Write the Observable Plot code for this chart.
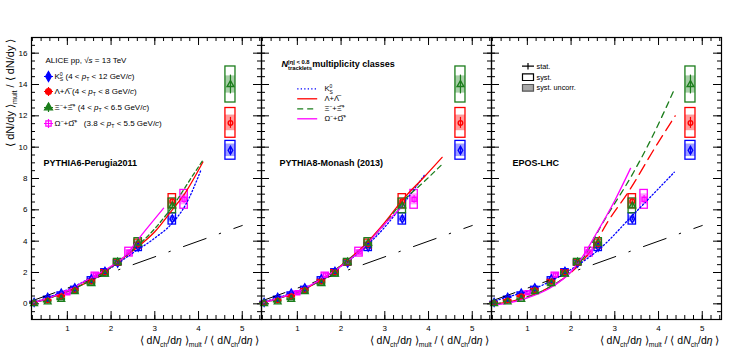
<!DOCTYPE html>
<html><head><meta charset="utf-8">
<script src="https://cdn.jsdelivr.net/npm/d3@7"></script>
<script src="https://cdn.jsdelivr.net/npm/@observablehq/plot@0.6"></script>
<style>
body{margin:0;background:#fff;}
#chart svg{display:block;}
</style></head><body><div id="chart"></div>
<script>
// ---------------- data ----------------
const panels = ["P6", "P8", "EPOS"];
const panelNames = ["PYTHIA6-Perugia2011", "PYTHIA8-Monash (2013)", "EPOS-LHC"];
const xTickLabels = [1, 2, 3, 4, 5];
const yTickLabels = [0, 2, 4, 6, 8, 10, 12, 14, 16];

// multiplicity classes (x) for K0S, Lambda, Xi
const classX = [0.24, 0.55, 0.86, 1.17, 1.55, 1.86, 2.15, 2.62, 3.40];
const k0sY    = [0.10, 0.42, 0.68, 1.02, 1.60, 2.08, 2.60, 3.62, 5.42];
const k0sStat = [0.01, 0.01, 0.01, 0.02, 0.02, 0.03, 0.04, 0.06, 0.10];
const k0sSyst = [0.03, 0.04, 0.05, 0.07, 0.10, 0.13, 0.16, 0.25, 0.36];
const k0sUnc  = [0.02, 0.02, 0.03, 0.04, 0.06, 0.07, 0.09, 0.13, 0.20];
const lamY    = [0.05, 0.22, 0.48, 0.88, 1.42, 2.00, 2.63, 3.82, 6.55];
const lamStat = [0.01, 0.01, 0.02, 0.02, 0.03, 0.04, 0.05, 0.07, 0.12];
const lamSyst = [0.02, 0.03, 0.05, 0.07, 0.11, 0.15, 0.19, 0.28, 0.45];
const lamUnc  = [0.01, 0.02, 0.03, 0.04, 0.06, 0.08, 0.10, 0.15, 0.22];
const xiY     = [0.02, 0.12, 0.29, 0.78, 1.29, 1.90, 2.66, 3.88, 6.25];
const xiStat  = [0.01, 0.02, 0.02, 0.03, 0.04, 0.05, 0.06, 0.09, 0.15];
const xiSyst  = [0.02, 0.03, 0.05, 0.08, 0.12, 0.16, 0.21, 0.31, 0.47];
const xiUnc   = [0.01, 0.02, 0.03, 0.04, 0.06, 0.08, 0.11, 0.16, 0.24];
// Omega (merged classes)
const omeX    = [1.01, 1.64, 2.41, 3.67];
const omeY    = [0.71, 1.84, 3.30, 6.67];
const omeStat = [0.04, 0.08, 0.14, 0.25];
const omeSyst = [0.08, 0.15, 0.28, 0.60];
const omeUnc  = [0.05, 0.09, 0.17, 0.35];
// highest-multiplicity points (K0S, Lambda, Xi)
const hmX    = [4.73, 4.73, 4.73];
const hmY    = [9.80, 11.55, 14.00];
const hmStat = [0.25, 0.35, 0.60];
const hmSyst = [0.60, 0.95, 1.15];
const hmUnc  = [0.40, 0.50, 0.55];
// linear reference (dash-dot)
const refLine = [[0.2, 0.2], [5.0, 5.0]];

// MC predictions [x, y]
const p6K0S = [[0.2,0.08],[0.5,0.35],[1,0.9],[1.5,1.6],[2,2.3],[2.5,3.25],[3,4.2],[3.4,5.15],[3.7,6.3],[4.05,8.5]];
const p6Lam = [[0.2,0.05],[0.5,0.3],[1,0.8],[1.5,1.45],[2,2.35],[2.2,2.75],[2.5,3.4],[3,4.6],[3.4,6.0],[3.7,7.1],[4.1,9.05]];
const p6Xi  = [[0.2,0.03],[0.5,0.28],[1,0.8],[1.5,1.45],[2,2.35],[2.5,3.45],[3,4.8],[3.5,6.6],[3.8,7.9],[4.12,9.25]];
const p6Ome = [[0.2,0.05],[0.5,0.3],[1,0.85],[1.5,1.6],[2,2.4],[2.3,3.0],[2.7,4.4],[3.2,6.1]];

const p8K0S = [[0.2,0.1],[0.5,0.35],[1,0.8],[1.5,1.45],[2,2.4],[2.5,3.5],[3,4.9],[3.4,6.3],[3.9,8.2]];
const p8Lam = [[0.2,0.05],[0.5,0.3],[1,0.75],[1.5,1.45],[2,2.45],[2.5,3.65],[3,5.2],[3.44,6.75],[3.9,8.1],[4.31,9.35]];
const p8Xi  = [[0.2,0.03],[0.5,0.28],[1,0.75],[1.5,1.45],[2,2.45],[2.5,3.6],[3,5.1],[3.4,6.5],[3.9,7.8],[4.29,8.85]];
const p8Ome = [[0.2,0.05],[0.5,0.3],[1,0.78],[1.5,1.5],[2,2.4],[2.5,3.55],[3,5.1],[3.45,6.35]];

const epK0S = [[0.2,0.12],[0.5,0.4],[1,0.8],[1.5,1.4],[2,2.2],[2.3,2.75],[2.63,3.45],[3.39,5.6],[4.36,8.4]];
const epLam = [[0.25,0.0],[0.5,0.08],[1,0.45],[1.5,1.05],[2,2.0],[2.3,2.85],[2.5,3.6],[2.82,5.15],[3.3,7.1],[3.97,10.2],[4.38,12.0]];
const epXi  = [[0.25,0.0],[0.5,0.08],[1,0.45],[1.5,1.05],[2,2.05],[2.3,3.0],[2.67,4.9],[3.43,8.4],[3.81,10.4],[4.38,13.8]];
const epOme = [[0.27,-0.06],[0.5,0.02],[1,0.38],[1.5,0.98],[2,2.05],[2.2,2.75],[2.6,4.6],[3.0,6.6],[3.36,8.65]];

// ---------------- layout / style ----------------
const W = 747, H = 353, ML = 31, MR = 26, MT = 37, MB = 34;
const FW = (W - ML - MR) / 3, FH = H - MT - MB;
const BLUE = "#0000ff", RED = "#ff0000", GREEN = "#1b7d1b", MAG = "#ff00ff";
const BOX = 0.085, HMBOX = 0.115;

const species = [
  {key: "K0S", color: BLUE,  symbol: "diamond",  r: 2.4, x: classX, y: k0sY, stat: k0sStat, syst: k0sSyst, unc: k0sUnc},
  {key: "Lam", color: RED,   symbol: "circle",   r: 2.3, x: classX, y: lamY, stat: lamStat, syst: lamSyst, unc: lamUnc},
  {key: "Xi",  color: GREEN, symbol: "triangle", r: 2.5, x: classX, y: xiY,  stat: xiStat,  syst: xiSyst,  unc: xiUnc},
  {key: "Ome", color: MAG,   symbol: "square",   r: 2.3, x: omeX,   y: omeY, stat: omeStat, syst: omeSyst, unc: omeUnc}
];
const pts = species.flatMap(s => s.x.map((x, i) => ({sp: s.key, color: s.color, x, y: s.y[i], stat: s.stat[i], syst: s.syst[i], unc: s.unc[i], hw: BOX})));
["K0S", "Lam", "Xi"].forEach((k, i) => pts.push({sp: k, color: species[i].color, x: hmX[i], y: hmY[i], stat: hmStat[i], syst: hmSyst[i], unc: hmUnc[i], hw: HMBOX}));

const mc = [
  ["P6", p6K0S, BLUE, "1.3,2.2"], ["P6", p6Lam, RED, null], ["P6", p6Xi, GREEN, "4,3"], ["P6", p6Ome, MAG, null],
  ["P8", p8K0S, BLUE, "1.3,2.2"], ["P8", p8Lam, RED, null], ["P8", p8Xi, GREEN, "5,4"], ["P8", p8Ome, MAG, null],
  ["EPOS", epK0S, BLUE, "1.3,2.2"], ["EPOS", epLam, RED, "11,6"], ["EPOS", epXi, GREEN, "6,5"], ["EPOS", epOme, MAG, null]
];

const xMinor = d3.range(0.2, 5.41, 0.2), xMajor = d3.range(1, 6, 1);
const yMinor = d3.range(-0.5, 16.6, 0.5), yMajor = d3.range(0, 17, 2);

// custom symbols
const rOf = s => Math.sqrt(s / Math.PI);
const hLine = {draw(c, s) { const r = rOf(s); c.moveTo(-r, 0); c.lineTo(r, 0); }};
const plusSym = {draw(c, s) { const r = rOf(s); c.moveTo(-r, 0); c.lineTo(r, 0); c.moveTo(0, -r); c.lineTo(0, r); }};
const statSym = {draw(c, s) { const r = rOf(s); c.moveTo(-r, 0); c.lineTo(r, 0); c.moveTo(0, -r * 0.55); c.lineTo(0, r * 0.55); }};
const boxSym = {draw(c, s) { const r = rOf(s); c.rect(-r, -r * 0.6, 2 * r, 1.2 * r); }};

// rich text definitions
const OL = "\u0305";
const RICH = {
  "§ALICE": [["ALICE pp, √"], ["s", "i"], [" = 13 TeV"]],
  "§LK": [["K"], ["0", "^"], ["S", "_<"], [" (4 < "], ["p", "i"], ["T", "_"], [" < 12 GeV/"], ["c", "i"], [")"]],
  "§LL": [["Λ+Λ" + OL], [" (4 < "], ["p", "i"], ["T", "_"], [" < 8 GeV/"], ["c", "i"], [")"]],
  "§LX": [["Ξ"], ["−", "^"], ["+Ξ" + OL], ["+", "^"], [" (4 < "], ["p", "i"], ["T", "_"], [" < 6.5 GeV/"], ["c", "i"], [")"]],
  "§LO": [["Ω"], ["−", "^"], ["+Ω" + OL], ["+", "^"], ["   (3.8 < "], ["p", "i"], ["T", "_"], [" < 5.5 GeV/"], ["c", "i"], [")"]],
  "§NTR": [["N", "i"], ["tracklets", "_"], ["|η| < 0.8", "^<"], [" multiplicity classes"]],
  "§MK": [["K"], ["0", "^"], ["S", "_<"]],
  "§ML": [["Λ+Λ" + OL]],
  "§MX": [["Ξ"], ["−", "^"], ["+Ξ" + OL], ["+", "^"]],
  "§MO": [["Ω"], ["−", "^"], ["+Ω" + OL], ["+", "^"]],
  "§XT": [["⟨ d"], ["N", "i"], ["ch", "_"], ["/d"], ["η", "i"], [" ⟩"], ["mult", "_"], [" / ⟨ d"], ["N", "i"], ["ch", "_"], ["/d"], ["η", "i"], [" ⟩"]],
  "§YT": [["⟨ dN/dy ⟩"], ["mult", "_"], [" / ⟨ dN/dy ⟩"]]
};

// helpers for panel-specific annotations
const one = p => [{p}];
const txt = (p, key, dx, dy, o = {}) => Plot.text(one(p), {fx: "p", text: () => key, frameAnchor: "top-left", dx, dy, textAnchor: "start", lineAnchor: "middle", fontSize: 8, ...o});
const sym = (p, dx, dy, o) => Plot.dot(one(p), {fx: "p", frameAnchor: "top-left", dx, dy, ...o});

const legendP1 = [
  ["§LK", BLUE, "diamond", true, 39], ["§LL", RED, "circle", true, 54],
  ["§LX", GREEN, "triangle", true, 70], ["§LO", MAG, "square", false, 86]
].flatMap(([k, c, s, filled, dy]) => [
  sym("P6", 17, dy, {symbol: plusSym, r: 4.5, stroke: c, strokeWidth: 1.2, fill: "none"}),
  sym("P6", 17, dy, {symbol: s, r: 3, stroke: c, strokeWidth: 1.2, fill: filled ? c : "none"}),
  txt("P6", k, 23, dy)
]);
const legendP2 = [
  ["§MK", BLUE, "1.3,2.2", 51.3], ["§ML", RED, null, 61.3], ["§MX", GREEN, "6,4", 71.3], ["§MO", MAG, null, 81.3]
].flatMap(([k, c, dash, dy]) => [
  sym("P8", 45.7, dy, {symbol: hLine, r: 10, stroke: c, strokeWidth: 1.3, fill: "none", strokeDasharray: dash}),
  txt("P8", k, 63, dy, {fontSize: 7.6})
]);
const legendP3 = [
  sym("EPOS", 36.5, 28.7, {symbol: statSym, r: 6, stroke: "#000", strokeWidth: 1.2, fill: "none"}),
  txt("EPOS", "stat.", 45, 28.7, {fontSize: 7.3}),
  sym("EPOS", 36.5, 39.7, {symbol: boxSym, r: 5.5, stroke: "#000", strokeWidth: 1.2, fill: "#fff"}),
  txt("EPOS", "syst.", 45, 39.7, {fontSize: 7.3}),
  sym("EPOS", 36.5, 50.3, {symbol: boxSym, r: 5.5, stroke: "#555", strokeWidth: 1.2, fill: "#a8a8a8"}),
  txt("EPOS", "syst. uncorr.", 45, 50.3, {fontSize: 7.3})
];

const marks = [
  // ticks (ROOT style, inward on all sides)
  Plot.tickX(xMinor, {x: d => d, insetTop: FH - 4, stroke: "#000"}),
  Plot.tickX(xMajor, {x: d => d, insetTop: FH - 8, stroke: "#000"}),
  Plot.tickX(xMinor, {x: d => d, insetBottom: FH - 4, stroke: "#000"}),
  Plot.tickX(xMajor, {x: d => d, insetBottom: FH - 8, stroke: "#000"}),
  Plot.tickY(yMinor, {y: d => d, insetRight: FW - 4, stroke: "#000"}),
  Plot.tickY(yMajor, {y: d => d, insetRight: FW - 8, stroke: "#000"}),
  Plot.tickY(yMinor, {y: d => d, insetLeft: FW - 4, stroke: "#000"}),
  Plot.tickY(yMajor, {y: d => d, insetLeft: FW - 8, stroke: "#000"}),
  Plot.axisX({ticks: xTickLabels, tickFormat: d3.format("d"), tickSize: 0, tickPadding: 6, fontSize: 8, label: null}),
  Plot.axisY({ticks: yTickLabels, tickFormat: d3.format("d"), tickSize: 0, tickPadding: 4, fontSize: 8, label: null}),
  // data boxes
  Plot.rect(pts, {x1: d => d.x - d.hw, x2: d => d.x + d.hw, y1: d => d.y - d.unc, y2: d => d.y + d.unc, fill: "color", fillOpacity: 0.38}),
  Plot.rect(pts, {x1: d => d.x - d.hw, x2: d => d.x + d.hw, y1: d => d.y - d.syst, y2: d => d.y + d.syst, fill: "none", stroke: "color", strokeWidth: 1.3}),
  // reference line
  Plot.line(refLine, {x: d => d[0], y: d => d[1], stroke: "#000", strokeWidth: 1, strokeDasharray: "24,14,1.5,14"}),
  // MC curves
  ...mc.map(([p, arr, c, dash]) => Plot.line(arr, {x: d => d[0], y: d => d[1], fx: () => p, stroke: c, strokeWidth: 1.3, strokeDasharray: dash, curve: "monotone-x"})),
  // stat bars + markers
  Plot.ruleX(pts, {x: "x", y1: d => d.y - d.stat, y2: d => d.y + d.stat, stroke: "color", strokeWidth: 1.2}),
  ...species.map(s => Plot.dot(pts.filter(d => d.sp === s.key), {x: "x", y: "y", symbol: s.symbol, r: s.r, stroke: s.color, strokeWidth: 1.4, fill: "none"})),
  Plot.frame({stroke: "#000", strokeWidth: 1.2}),
  // labels
  Plot.text(panels, {fx: d => d, text: () => "§XT", frameAnchor: "bottom-right", dx: -2, dy: 21, textAnchor: "end", lineAnchor: "middle", fontSize: 10.5}),
  Plot.text(one("P6"), {fx: "p", text: () => "§YT", frameAnchor: "top-left", dx: -21, dy: 1, rotate: -90, textAnchor: "end", lineAnchor: "middle", fontSize: 11}),
  ...panels.map((p, i) => txt(p, panelNames[i], [12, 18, 21][i], 126, {fontSize: 9, fontWeight: "bold"})),
  txt("P6", "§ALICE", 14, 23, {fontSize: 8}),
  txt("P8", "§NTR", 20, 27, {fontSize: 9, fontWeight: "bold"}),
  ...legendP1, ...legendP2, ...legendP3
];

const chart = Plot.plot({
  width: W, height: H,
  marginLeft: ML, marginRight: MR, marginTop: MT, marginBottom: MB,
  style: {fontFamily: "'Liberation Sans', Arial, Helvetica, sans-serif", fontSize: "8px", background: "#fff", color: "#000", overflow: "visible"},
  fx: {domain: panels, padding: 0, axis: null},
  x: {domain: [0.18, 5.44]},
  y: {domain: [-1, 17]},
  color: {type: "identity"},
  marks
});
document.getElementById("chart").appendChild(chart);

// build sub/superscripts as real SVG text
function richify(svg) {
  svg.querySelectorAll("text").forEach(t => {
    const key = t.textContent;
    if (!(key in RICH)) return;
    const fs = parseFloat(getComputedStyle(t).fontSize) || 8;
    while (t.firstChild) t.removeChild(t.firstChild);
    let shift = 0, prev = null;
    for (const [s, f = ""] of RICH[key]) {
      const ts = document.createElementNS("http://www.w3.org/2000/svg", "tspan");
      ts.textContent = s;
      let target = 0, size = fs;
      if (f.includes("_")) { target = fs * 0.3; size = fs * 0.65; }
      if (f.includes("^")) { target = -fs * 0.38; size = fs * 0.65; }
      ts.setAttribute("font-size", size);
      if (target - shift !== 0) ts.setAttribute("dy", target - shift);
      if (f.includes("i")) ts.setAttribute("font-style", "italic");
      if (f.includes("<") && prev) ts.setAttribute("dx", -prev.getComputedTextLength());
      t.appendChild(ts);
      shift = target; prev = ts;
    }
  });
}
richify(chart);
</script>
</body></html>
